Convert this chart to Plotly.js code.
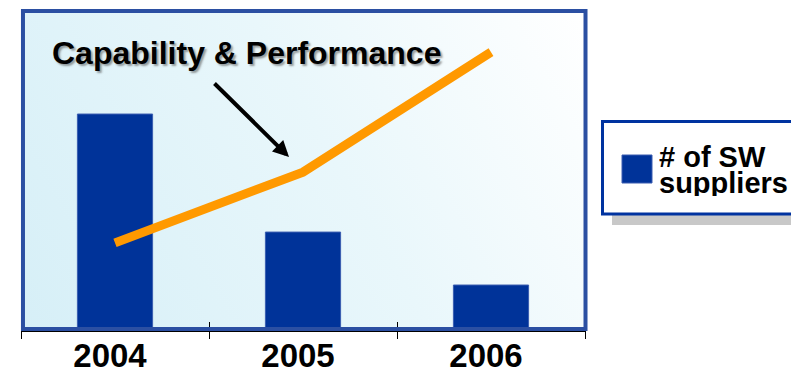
<!DOCTYPE html>
<html>
<head>
<meta charset="utf-8">
<script src="https://cdn.plot.ly/plotly-3.0.1.min.js"></script>
<style>html,body{margin:0;padding:0;background:#fff;}#chart{width:791px;height:370px;}</style>
</head>
<body>
<div id="chart"></div>
<script>
// ---- data ----
const years = ['2004', '2005', '2006'];
const swSuppliers = [67.7, 30.7, 14.1];          // bars: # of SW suppliers
const capabilityPerformance = [27.3, 49.5, 87.1]; // orange line
const seriesName = '# of SW suppliers';
const lineLabel = 'Capability & Performance';
const legendLines = ['# of SW', 'suppliers'];

// ---- background gradient for plot area ----
function gradientURL() {
  const c = document.createElement('canvas');
  c.width = 564; c.height = 319;
  const g = c.getContext('2d');
  const grd = g.createLinearGradient(0, c.height, c.width, 0);
  grd.addColorStop(0, '#D6EFF7');
  grd.addColorStop(0.55, '#E9F7FB');
  grd.addColorStop(1, '#FFFFFF');
  g.fillStyle = grd;
  g.fillRect(0, 0, c.width, c.height);
  return c.toDataURL('image/png');
}

const font = 'Liberation Sans, Arial, Helvetica, sans-serif';

const traces = [
  {
    type: 'bar', x: years, y: swSuppliers, name: seriesName,
    marker: {color: '#003399', line: {color: '#3A5DB0', width: 1}},
    showlegend: false, hoverinfo: 'skip'
  },
  {
    type: 'scatter', mode: 'lines', x: years, y: capabilityPerformance, name: lineLabel,
    line: {color: '#FF9900', width: 9},
    showlegend: false, hoverinfo: 'skip'
  },
  {
    type: 'scatter', mode: 'none', x: years, y: [null, null, null], xaxis: 'x2',
    showlegend: false, hoverinfo: 'skip'
  }
];

const L = 21, W = 564, T = 11, H = 319;
const px = v => (v - L) / W;
const py = v => (T + H - v) / H;

const layout = {
  width: 791, height: 370,
  margin: {l: L, r: 791 - L - W, t: T, b: 370 - T - H, pad: 0},
  paper_bgcolor: '#FFFFFF',
  plot_bgcolor: 'rgba(0,0,0,0)',
  bargap: 0.6,
  showlegend: false,
  xaxis: {
    type: 'category', range: [-0.5, 2.5], fixedrange: true,
    showline: true, linecolor: '#000000', linewidth: 2,
    ticks: 'inside', tickson: 'boundaries', ticklen: 8, tickwidth: 1, tickcolor: '#000000',
    showgrid: false, zeroline: false,
    ticklabelshift: -5, ticklabelstandoff: -5,
    tickfont: {family: font, size: 33, color: '#000000', weight: 'bold'}
  },
  xaxis2: {
    type: 'category', overlaying: 'x', matches: 'x', range: [-0.5, 2.5],
    ticks: 'outside', tickson: 'boundaries', ticklen: 8, tickwidth: 1, tickcolor: '#000000',
    showticklabels: false, showgrid: false, zeroline: false, showline: false
  },
  yaxis: {
    range: [0, 100], fixedrange: true, visible: true,
    showticklabels: false, showgrid: false, zeroline: false, showline: false, ticks: ''
  },
  images: [{
    source: gradientURL(), xref: 'paper', yref: 'paper', x: 0, y: 1,
    sizex: 1, sizey: 1, sizing: 'stretch', xanchor: 'left', yanchor: 'top', layer: 'below'
  }],
  shapes: [
    // plot frame
    {type: 'rect', xref: 'paper', yref: 'paper', x0: 0.0035, x1: 1.0009, y0: 0.003, y1: 1,
     line: {color: '#2B4FA2', width: 4}, fillcolor: 'rgba(0,0,0,0)', layer: 'above'},
    // legend shadow
    {type: 'rect', xref: 'paper', yref: 'paper', x0: px(612), x1: px(805), y0: py(225), y1: py(214),
     line: {width: 0}, fillcolor: '#C8C8C8', layer: 'above'},
    // legend box
    {type: 'rect', xref: 'paper', yref: 'paper', x0: px(602.5), x1: px(805), y0: py(214), y1: py(121.5),
     line: {color: '#0033A0', width: 3}, fillcolor: '#FFFFFF', layer: 'above'},
    // legend swatch
    {type: 'rect', xref: 'paper', yref: 'paper', x0: px(622), x1: px(652), y0: py(183), y1: py(155),
     line: {color: '#3A5DB0', width: 1}, fillcolor: '#003399', layer: 'above'}
  ],
  annotations: [
    // title
    {xref: 'paper', yref: 'paper', x: px(246.5), y: py(53), xanchor: 'center', yanchor: 'middle',
     text: lineLabel, showarrow: false,
     font: {family: font, size: 32, color: '#000000', weight: 'bold',
            shadow: '2px 2px 2px rgba(80,80,80,0.55)'}},
    // arrow
    {xref: 'paper', yref: 'paper', x: px(289), y: py(157), ax: -76, ay: -75, text: '',
     showarrow: true, arrowhead: 2, arrowsize: 0.8, arrowwidth: 4, arrowcolor: '#000000', standoff: 0},
    // legend text
    {xref: 'paper', yref: 'paper', x: px(657), y: py(156), xanchor: 'left', yanchor: 'middle',
     text: legendLines[0], showarrow: false, height: 27,
     font: {family: font, size: 29, color: '#000000', weight: 'bold'}},
    {xref: 'paper', yref: 'paper', x: px(657), y: py(183), xanchor: 'left', yanchor: 'middle',
     text: legendLines[1], showarrow: false, height: 27,
     font: {family: font, size: 29, color: '#000000', weight: 'bold'}}
  ]
};

Plotly.newPlot('chart', traces, layout, {displayModeBar: false, staticPlot: true});
</script>
</body>
</html>
